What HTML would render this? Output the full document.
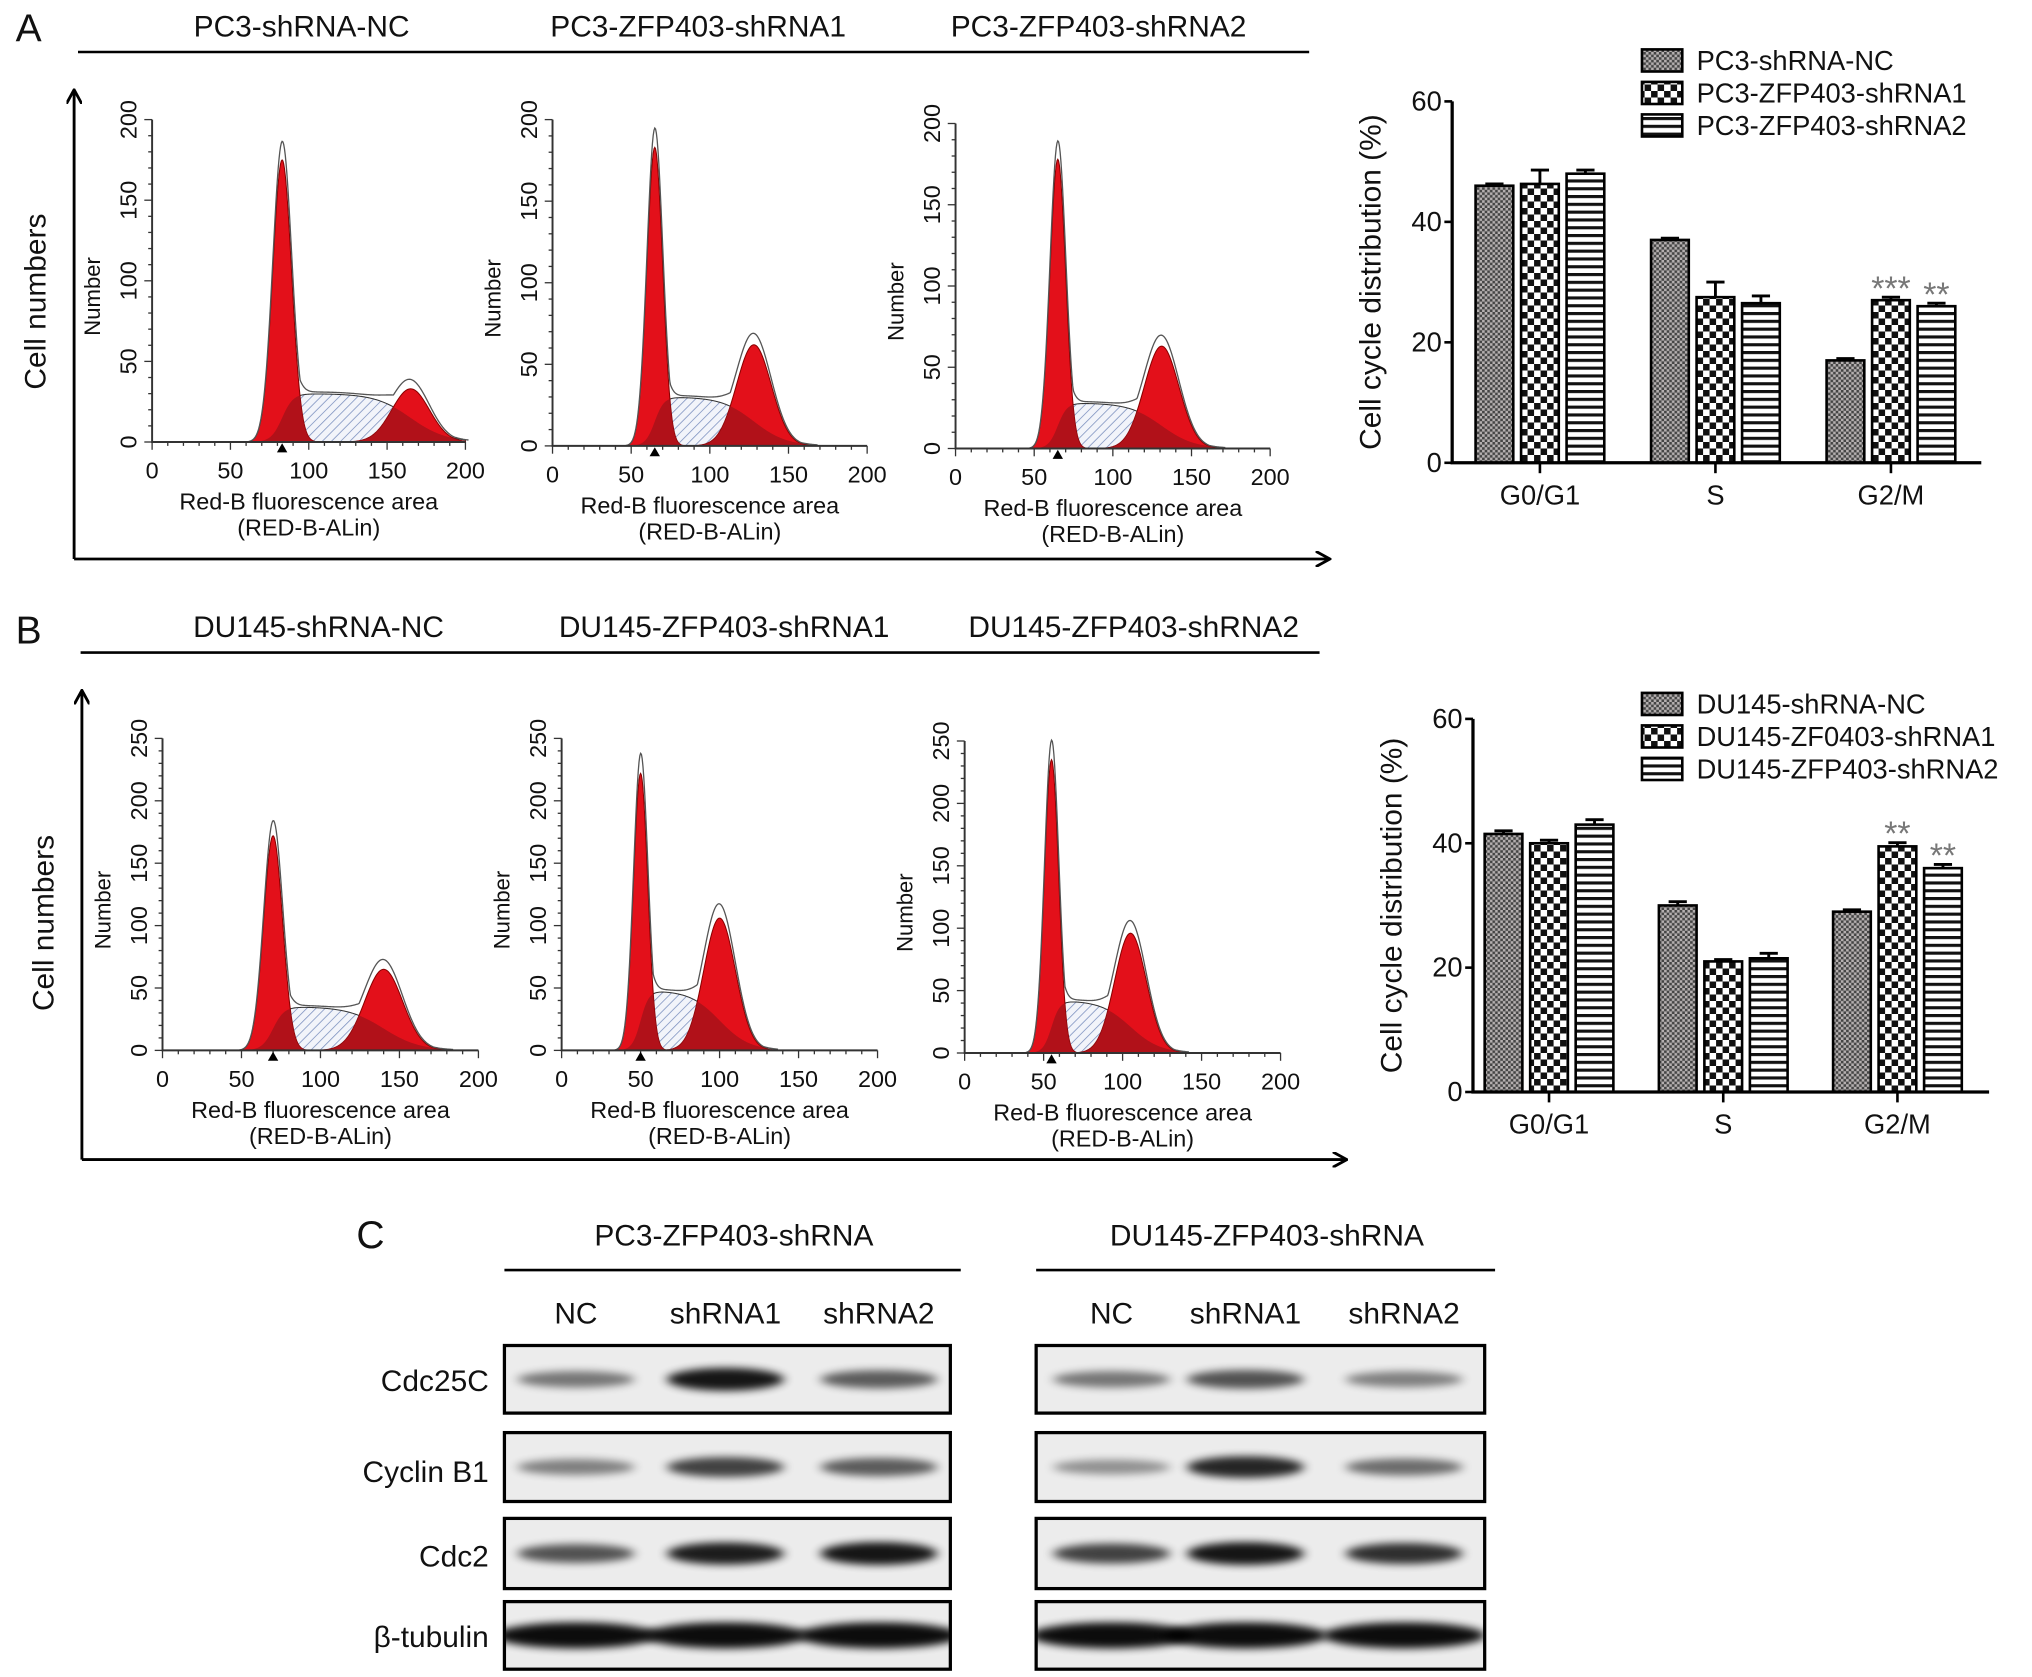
<!DOCTYPE html>
<html><head><meta charset="utf-8">
<style>
html,body{margin:0;padding:0;background:#fff;}
svg{display:block;font-family:"Liberation Sans",Arial,sans-serif;}
</style></head>
<body>
<svg id="fig" width="2032" height="1677" viewBox="0 0 1563 1290" preserveAspectRatio="none" xmlns="http://www.w3.org/2000/svg">
<defs>
<pattern id="patNC" width="4" height="4" patternUnits="userSpaceOnUse"><rect width="4" height="4" fill="#b5b0b0"/><rect width="2" height="2" fill="#444"/><rect x="2" y="2" width="2" height="2" fill="#444"/></pattern>
<pattern id="patS1" width="10" height="10" patternUnits="userSpaceOnUse"><rect width="10" height="10" fill="#fff"/><rect width="5" height="5" fill="#111"/><rect x="5" y="5" width="5" height="5" fill="#111"/></pattern>
<pattern id="patS2" width="6" height="6" patternUnits="userSpaceOnUse"><rect width="6" height="6" fill="#fff"/><rect y="0" width="6" height="2.4" fill="#111"/></pattern>
<pattern id="hatch" width="5" height="5" patternUnits="userSpaceOnUse" patternTransform="rotate(45)"><rect width="5" height="5" fill="#f2f4fa"/><line x1="0" y1="0" x2="0" y2="5" stroke="#7e92c0" stroke-width="1.2"/></pattern>
<filter id="blur" x="-30%" y="-80%" width="160%" height="260%"><feGaussianBlur stdDeviation="4 3"/></filter>
<marker id="arr" markerWidth="12" markerHeight="12" refX="10" refY="6" orient="auto" markerUnits="userSpaceOnUse"><path d="M0,0 L11,6 L0,12" fill="none" stroke="#000" stroke-width="2.2"/></marker>
</defs>
<g id="root"></g>
</svg>
<script>
// ---------- Histogram data (per panel: A1,A2,A3,B1,B2,B3) ----------
const histPanels = ["A1","A2","A3","B1","B2","B3"];
const g1Mean   = [83, 65, 65, 70, 50, 55];
const g1Height = [175, 183, 178, 172, 222, 235];
const g1Sd     = [6, 5, 5, 6, 4.5, 4.5];
const g2Mean   = [165, 128, 131, 140, 100, 105];
const g2Height = [33, 62, 63, 65, 106, 96];
const g2Sd     = [12, 11, 11, 12, 10, 10];
const sHeight  = [30, 30, 28, 35, 48, 42];
const histYMax = [200, 200, 200, 250, 250, 250];
const histTicks = [[0,50,100,150,200],[0,50,100,150,200],[0,50,100,150,200],[0,50,100,150,200,250],[0,50,100,150,200,250],[0,50,100,150,200,250]];
const xTicks = [0,50,100,150,200];

// ---------- Bar chart data ----------
const phases = ["G0/G1","S","G2/M"];
const barA_NC  = [46, 37, 17];
const barA_sh1 = [46.3, 27.5, 27];
const barA_sh2 = [48, 26.5, 26];
const errA_NC  = [0.3, 0.3, 0.3];
const errA_sh1 = [2.3, 2.5, 0.5];
const errA_sh2 = [0.6, 1.2, 0.5];
const barB_NC  = [41.5, 30, 29];
const barB_sh1 = [40, 21, 39.5];
const barB_sh2 = [43, 21.5, 36];
const errB_NC  = [0.5, 0.6, 0.3];
const errB_sh1 = [0.5, 0.3, 0.6];
const errB_sh2 = [0.8, 0.8, 0.6];
const barTicks = [0, 20, 40, 60];
const starsA = ["", "***", "**"];
const starsB = ["", "**", "**"];

// ---------- Western blot data ----------
const blotRows = ["Cdc25C","Cyclin B1","Cdc2","β-tubulin"];
const blotLanes = ["NC","shRNA1","shRNA2"];
const pc3Intensity   = [[0.4,0.95,0.55],[0.35,0.7,0.55],[0.6,0.9,0.95],[1,1,1]];
const du145Intensity = [[0.4,0.6,0.35],[0.25,0.85,0.45],[0.7,0.95,0.8],[1,1,1]];

const NS="http://www.w3.org/2000/svg";
const root=document.getElementById('root');
const defs=document.querySelector('defs');
function el(tag,attrs,parent){const e=document.createElementNS(NS,tag);for(const k in attrs)e.setAttribute(k,attrs[k]);(parent||root).appendChild(e);return e;}
function txt(s,x,y,size,anchor,parent,rot){const t=el('text',{x:x,y:y,'font-size':size,'text-anchor':anchor||'middle',fill:'#111'},parent);if(rot)t.setAttribute('transform','rotate(-90 '+x+' '+y+')');t.textContent=s;return t;}

// ---------- Static labels ----------
let t;
t=txt("A",22,32,30,'middle');
t=txt("B",22,495,30,'middle');
t=txt("C",285,960,30,'middle');

const colTitlesA=[["PC3-shRNA-NC",232],["PC3-ZFP403-shRNA1",537],["PC3-ZFP403-shRNA2",845]];
const colTitlesB=[["DU145-shRNA-NC",245],["DU145-ZFP403-shRNA1",557],["DU145-ZFP403-shRNA2",872]];
colTitlesA.forEach(c=>{const e=txt(c[0],c[1],28,23);});
colTitlesB.forEach(c=>{const e=txt(c[0],c[1],490,23);});
let ln=el('line',{x1:60,y1:40,x2:1007,y2:40,stroke:'#000','stroke-width':2});

ln=el('line',{x1:62,y1:502,x2:1015,y2:502,stroke:'#000','stroke-width':2});


function bigAxes(x,yb,ytop,xr,name,lblY){
  let a=el('line',{x1:x,y1:yb,x2:x,y2:ytop,stroke:'#000','stroke-width':2.2,'marker-end':'url(#arr)'});
  
  a=el('line',{x1:x,y1:yb,x2:xr,y2:yb,stroke:'#000','stroke-width':2.2,'marker-end':'url(#arr)'});
  
  const c=txt("Cell numbers",x-22,lblY,23,'middle',null,true);
  
}
bigAxes(57,430,70,1022,'panel-a',232);
bigAxes(63,892,532,1035,'panel-b',710);

// ---------- Histograms ----------
const geom=[ // x0px, x200px, y0px, yTopPx
 [117,358,340,92],[425,667,343,92],[735,977,345,95],
 [125,368,808,568],[432,675,808,568],[742,985,810,570]];
function gauss(x,m,s,h){return h*Math.exp(-0.5*((x-m)/s)*((x-m)/s));}
function logi(z){return 1/(1+Math.exp(-1.7*z));}
histPanels.forEach((p,i)=>{
  const [X0,X1,Y0,YT]=geom[i];
  const g=el('g',{});
  
  
  const sx=v=>X0+(X1-X0)*v/200, sy=v=>Y0-(Y0-YT)*v/histYMax[i];
  const f1=x=>gauss(x,g1Mean[i],g1Sd[i],g1Height[i]);
  const f2=x=>gauss(x,g2Mean[i],g2Sd[i],g2Height[i]);
  const fs=x=>sHeight[i]*logi((x-g1Mean[i])/g1Sd[i])*(1-logi((x-g2Mean[i])/(g2Sd[i]*1.6)));
  const path=(f,a,b)=>{let d='M'+sx(a)+','+sy(0);for(let x=a;x<=b;x+=0.5)d+=' L'+sx(x).toFixed(2)+','+sy(f(x)).toFixed(2);return d+' L'+sx(b)+','+sy(0)+' Z';};
  const lo=g1Mean[i]-4*g1Sd[i], hi=Math.min(200,g2Mean[i]+3.5*g2Sd[i]);
  let s=el('path',{d:path(fs,lo,hi),fill:'url(#hatch)',stroke:'#333','stroke-width':0.8},g);
  
  let a=el('path',{d:path(f1,lo,g1Mean[i]+4*g1Sd[i]),fill:'#e3101a',stroke:'#8a0000','stroke-width':0.8},g);
  
  let b=el('path',{d:path(f2,g2Mean[i]-4*g2Sd[i],hi),fill:'#e3101a',stroke:'#8a0000','stroke-width':0.8},g);
  
  const ov=el('path',{d:path(x=>Math.min(fs(x),Math.max(f1(x),f2(x))),lo,hi),fill:'#a0121a',opacity:0.75},g);
  
  let d='';for(let x=lo;x<=hi+2;x+=0.5){const v=Math.max(f1(x),f2(x),fs(x))*1.04+Math.min(f1(x)+f2(x),fs(x))*0.3;d+=(d?' L':'M')+sx(x).toFixed(2)+','+sy(v).toFixed(2);}
  const env=el('path',{d:d,fill:'none',stroke:'#555','stroke-width':1},g);
  
  const ax=el('path',{d:'M'+X0+','+YT+' L'+X0+','+Y0+' L'+X1+','+Y0,fill:'none',stroke:'#333','stroke-width':1.5},g);
  
  for(let v=0;v<=histYMax[i];v+=10){const mj=v%50===0;el('line',{x1:X0-(mj?6:3),y1:sy(v),x2:X0,y2:sy(v),stroke:'#333','stroke-width':1},g);}
  for(let v=0;v<=200;v+=10){const mj=v%50===0;el('line',{x1:sx(v),y1:Y0,x2:sx(v),y2:Y0+(mj?6:3),stroke:'#333','stroke-width':1},g);}
  histTicks[i].forEach(v=>{const e=txt(String(v),X0-12,sy(v),18,'middle',g,true);});
  xTicks.forEach(v=>{const e=txt(String(v),sx(v),Y0+28,18,'middle',g);});
  const yl=txt("Number",X0-40,(Y0+YT)/2+12,17,'middle',g,true);
  
  const mid=(X0+X1)/2;
  let xl=txt("Red-B fluorescence area",mid,Y0+52,18,'middle',g);
  
  xl=txt("(RED-B-ALin)",mid,Y0+72,18,'middle',g);
  
  const tx=sx(g1Mean[i]);
  const tri=el('path',{d:'M'+(tx-4)+','+(Y0+8)+' L'+(tx+4)+','+(Y0+8)+' L'+tx+','+(Y0+1)+' Z',fill:'#000'},g);
  
});

// ---------- Bar charts ----------
function barChart(name,axisX,axisEnd,y0,y60,firstBar,pitch,series,errs,stars,legend,legY){
  const g=el('g',{});
  
  
  const sy=v=>y0-(y0-y60)*v/60;
  const fills=['url(#patNC)','url(#patS1)','url(#patS2)'];
  const bw=29,gap=6;
  phases.forEach((ph,k)=>{
    series.forEach((ser,j)=>{
      const x=firstBar+k*pitch+j*(bw+gap);
      const r=el('rect',{x:x,y:sy(ser[k]),width:bw,height:y0-sy(ser[k]),fill:fills[j],stroke:'#000','stroke-width':2},g);
      
      
      const cx=x+bw/2,top=sy(ser[k]+errs[j][k]);
      const eb=el('path',{d:'M'+cx+','+sy(ser[k])+' L'+cx+','+top+' M'+(cx-7)+','+top+' L'+(cx+7)+','+top,stroke:'#000','stroke-width':2.2,fill:'none'},g);
      
    });
    const tc=firstBar+k*pitch+bw*1.5+gap;
    el('line',{x1:tc,y1:y0,x2:tc,y2:y0+8,stroke:'#000','stroke-width':2},g);
    const lb=txt(ph,tc,y0+32,21,'middle',g);
    
  });
  [1,2].forEach(j=>{
    const k=2,x=firstBar+k*pitch+j*(bw+gap)+bw/2;
    const s=txt(stars[j],x,sy(series[j][k]+errs[j][k])+2,26,'middle',g);
    s.setAttribute('fill','#777');
    
  });
  const ax=el('path',{d:'M'+axisX+','+y60+' L'+axisX+','+y0+' L'+axisEnd+','+y0,fill:'none',stroke:'#000','stroke-width':2.5},g);
  
  barTicks.forEach(v=>{
    el('line',{x1:axisX-6,y1:sy(v),x2:axisX,y2:sy(v),stroke:'#000','stroke-width':2},g);
    const e=txt(String(v),axisX-8,sy(v)+7,21,'end',g);
    
  });
  const yt=txt("Cell cycle distribution (%)",axisX-55,(y0+y60)/2,23,'middle',g,true);
  
  legend.forEach((L,j)=>{
    const y=legY+j*25;
    const r=el('rect',{x:1263,y:y-8,width:31,height:17,fill:fills[j],stroke:'#000','stroke-width':2},g);
    
    const e=txt(L,1305,y+8,21,'start',g);
    
  });
}
barChart('bar-chart-a',1117,1524,356,78,1135,135,[barA_NC,barA_sh1,barA_sh2],[errA_NC,errA_sh1,errA_sh2],starsA,
  ["PC3-shRNA-NC","PC3-ZFP403-shRNA1","PC3-ZFP403-shRNA2"],46);
barChart('bar-chart-b',1133,1530,840,553,1142,134,[barB_NC,barB_sh1,barB_sh2],[errB_NC,errB_sh1,errB_sh2],starsB,
  ["DU145-shRNA-NC","DU145-ZF0403-shRNA1","DU145-ZFP403-shRNA2"],541);

// ---------- Western blots ----------
const blotBoxesY=[[1035,1087],[1102,1155],[1168,1222],[1232,1284]];
let clipId=0;
function blot(name,title,x1,x2,lanesX,inten){
  const g=el('g',{});
  
  
  const tt=txt(title,(x1+x2)/2+5,958,23,'middle',g);
  
  const l=el('line',{x1:x1,y1:977,x2:x2+8,y2:977,stroke:'#000','stroke-width':2},g);
  
  blotLanes.forEach((ln,k)=>{const e=txt(ln,lanesX[k],1018,23,'middle',g);});
  blotRows.forEach((row,r)=>{
    const [ya,yb]=blotBoxesY[r];
    const cid='clip'+(clipId++);
    const cp=el('clipPath',{id:cid},defs);
    el('rect',{x:x1,y:ya,width:x2-x1,height:yb-ya},cp);
    const b=el('rect',{x:x1,y:ya,width:x2-x1,height:yb-ya,fill:'#ececec'},g);
    
    const bg=el('g',{'clip-path':'url(#'+cid+')'},g);
    const cy=(ya+yb)/2;
    inten[r].forEach((v,k)=>{
      const w=r===3?125:90, h=r===3?20:(9+9*v);
      const band=el('ellipse',{cx:lanesX[k],cy:cy,rx:w/2,ry:h/2,fill:'#000',opacity:(0.2+0.75*v).toFixed(2),filter:'url(#blur)'},bg);
      
      
    });
    el('rect',{x:x1,y:ya,width:x2-x1,height:yb-ya,fill:'none',stroke:'#000','stroke-width':2.5},g);
  });
}
blot('blot-pc3','PC3-ZFP403-shRNA',388,731,[443,558,676],pc3Intensity);
blot('blot-du145','DU145-ZFP403-shRNA',797,1142,[855,958,1080],du145Intensity);
const rowLabelY=[1070,1140,1205,1267];
blotRows.forEach((r,i)=>{const e=txt(r,376,rowLabelY[i],23,'end');});
</script>
</body></html>
